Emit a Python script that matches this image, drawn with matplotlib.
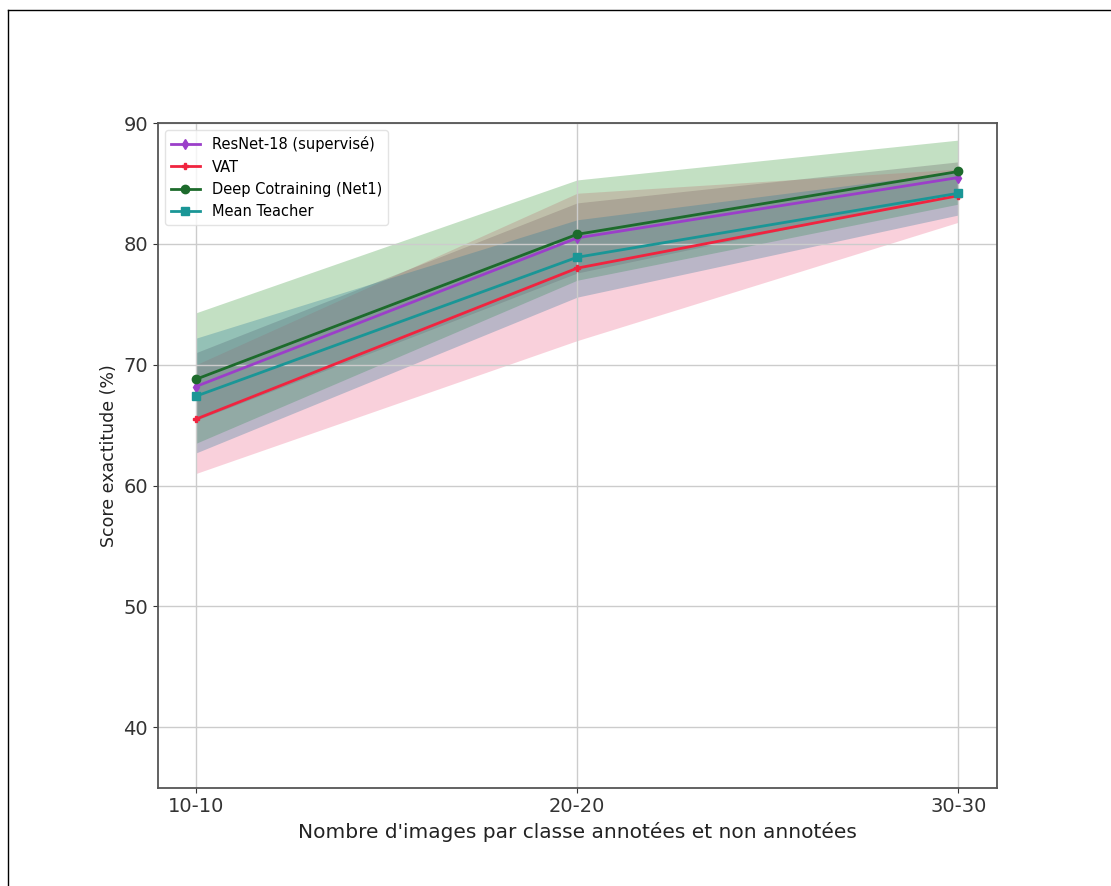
import matplotlib
matplotlib.use('Agg')
import matplotlib.pyplot as plt
from matplotlib.lines import Line2D

# x categories
configs = ["10-10", "20-20", "30-30"]

# mean accuracy (%) per method
resnet_mean = [68.2, 80.5, 85.5]
vat_mean = [65.5, 78.0, 84.0]
cotrain_mean = [68.8, 80.8, 86.0]
teacher_mean = [67.4, 78.9, 84.2]

# band limits (low / high)
resnet_low = [65.4, 77.6, 84.2]
resnet_high = [71.0, 83.4, 86.8]
vat_low = [61.0, 72.0, 81.8]
vat_high = [70.0, 84.2, 86.2]
cotrain_low = [63.5, 77.0, 83.3]
cotrain_high = [74.3, 85.3, 88.6]
teacher_low = [62.7, 75.6, 82.4]
teacher_high = [72.2, 82.0, 86.0]

fig = plt.figure(figsize=(11.11, 8.86), dpi=100)
ax = fig.add_axes([0.142, 0.111, 0.755, 0.750])

x = list(range(len(configs)))

series = [
    ("ResNet-18 (supervisé)", resnet_mean, resnet_low, resnet_high, "#9b3fc9", "d", 5),
    ("VAT", vat_mean, vat_low, vat_high, "#f0243f", "P", 5),
    ("Deep Cotraining (Net1)", cotrain_mean, cotrain_low, cotrain_high, "#1d6b2c", "o", 6),
    ("Mean Teacher", teacher_mean, teacher_low, teacher_high, "#1a9696", "s", 6),
]

# bands first, lines on top
fill_cols = {"ResNet-18 (supervisé)": "#7a4a7a", "VAT": "#ee6688",
             "Deep Cotraining (Net1)": "#3a9a3a", "Mean Teacher": "#2a7a9a"}
for name, m, lo, hi, col, mk, ms in series:
    ax.fill_between(x, lo, hi, color=fill_cols[name], alpha=0.3, linewidth=0)

for name, m, lo, hi, col, mk, ms in series:
    ax.plot(x, m, color=col, marker=mk, markersize=ms, linewidth=2, label=name)

ax.set_xlim(-0.1, 2.1)
ax.set_ylim(35, 90)
ax.set_xticks(x)
ax.set_xticklabels(configs)
ax.set_yticks([40, 50, 60, 70, 80, 90])
ax.tick_params(labelsize=14, colors="#333333")
ax.grid(True, color="#cccccc", linewidth=1)
for sp in ax.spines.values():
    sp.set_color("#555555")
    sp.set_linewidth(1.3)

ax.set_xlabel("Nombre d'images par classe annotées et non annotées", fontsize=14.5, color="#222222")
ax.set_ylabel("Score exactitude (%)", fontsize=12.5, color="#222222")

leg = ax.legend(loc="upper left", fontsize=10.5, frameon=True)
leg.get_frame().set_edgecolor("#dddddd")

# frame lines on top and left of the figure
fig.add_artist(Line2D([0.007, 1.0], [0.989, 0.989], color="black", linewidth=1, transform=fig.transFigure))
fig.add_artist(Line2D([0.007, 0.007], [0.0, 0.989], color="black", linewidth=1, transform=fig.transFigure))

fig.savefig("out.png", dpi=100)
